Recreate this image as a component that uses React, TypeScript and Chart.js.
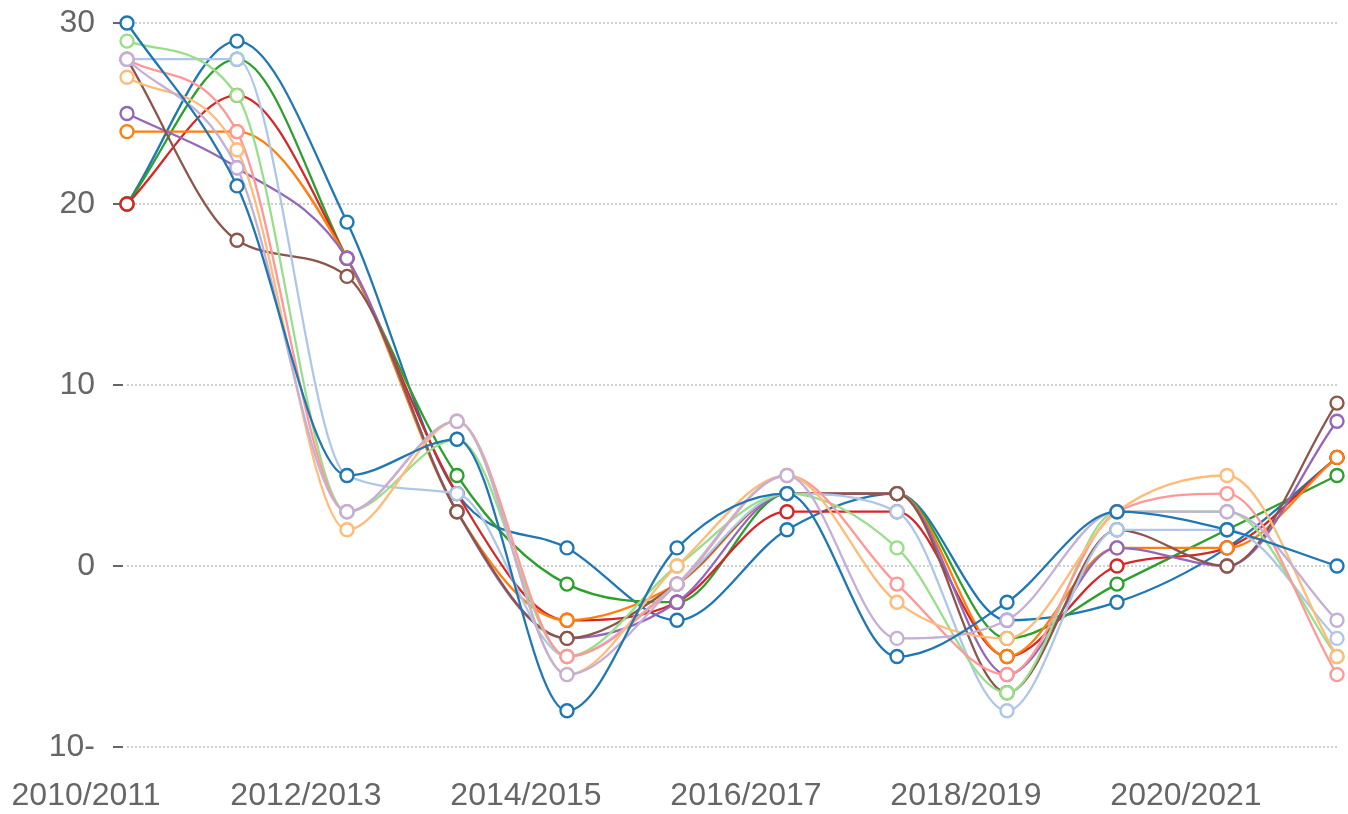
import React, { useEffect, useRef } from "react";
import { Chart, registerables } from "chart.js";

Chart.register(...registerables);

const categories = [
  "2010/2011", "2011/2012", "2012/2013", "2013/2014", "2014/2015", "2015/2016",
  "2016/2017", "2017/2018", "2018/2019", "2019/2020", "2020/2021", "2021/2022",
];

const yTickValues = [-10, 0, 10, 20, 30];
const yTickLabels = ["10-", "0", "10", "20", "30"];

// series values (Chart.js paints the first dataset on top)
const blueA = [30, 21, 5, 7, -8, 1, 4, -5, -2, 3, 2, 0];
const lightPurple = [28, 22, 3, 8, -6, -1, 5, -4, -3, 3, 3, -3];
const lightOrange = [27, 23, 2, 8, -6, 0, 5, -2, -4, 3, 5, -5];
const pink = [28, 24, 3, 8, -5, -1, 5, -1, -6, 3, 4, -6];
const lightGreen = [29, 26, 3, 7, -5, 0, 4, 1, -7, 3, 3, -5];
const lightBlue = [28, 28, 5, 4, -5, -1, 4, 3, -8, 2, 2, -4];
const brown = [28, 18, 16, 3, -4, -1, 4, 4, -7, 2, 0, 9];
const purple = [25, 22, 17, 3, -4, -2, 4, 4, -6, 1, 0, 8];
const orange = [24, 24, 17, 3, -3, -1, 4, 4, -5, 1, 1, 6];
const red = [20, 26, 17, 4, -3, -2, 3, 3, -5, 0, 1, 6];
const green = [20, 28, 17, 5, -1, -2, 4, 4, -4, -1, 2, 5];
const blueB = [20, 29, 19, 4, 1, -3, 2, 4, -3, -2, 1, 6];

const seriesValues = [blueA, lightPurple, lightOrange, pink, lightGreen, lightBlue, brown, purple, orange, red, green, blueB];
const seriesNames = ["L", "K", "J", "I", "H", "G", "F", "E", "D", "C", "B", "A"];
const seriesColors = [
  "#1f77b4", "#c5b0d5", "#ffbb78", "#ff9896", "#98df8a", "#aec7e8",
  "#8c564b", "#9467bd", "#ff7f0e", "#d62728", "#2ca02c", "#1f77b4",
];

const FONT = "'Liberation Sans', Arial, sans-serif";

export default function App() {
  const ref = useRef<HTMLCanvasElement | null>(null);

  useEffect(() => {
    if (!ref.current) return;
    const chart = new Chart(ref.current, {
      type: "line",
      data: {
        labels: categories,
        datasets: seriesValues.map((vals, i) => ({
          label: seriesNames[i],
          data: vals,
          borderColor: seriesColors[i],
          backgroundColor: "#ffffff",
          pointBackgroundColor: "#ffffff",
          pointBorderColor: seriesColors[i],
          pointRadius: 6.5,
          pointBorderWidth: 2.4,
          borderWidth: 2.3,
          cubicInterpolationMode: "monotone" as const,
          clip: false as any,
          fill: false,
        })),
      },
      options: {
        responsive: false,
        animation: false,
        events: [],
        layout: { padding: { top: 23, right: 11, left: 0, bottom: 0 } },
        plugins: { legend: { display: false }, tooltip: { enabled: false }, title: { display: false } },
        scales: {
          x: {
            type: "category",
            grid: { display: false, drawTicks: false },
            border: { display: false },
            ticks: {
              autoSkip: false,
              maxRotation: 0,
              minRotation: 0,
              labelOffset: -41,
              padding: 30,
              color: "#666666",
              font: { family: FONT, size: 32 },
              callback: (_v: any, index: number) => (index % 2 === 0 ? categories[index] : ""),
            },
            afterFit: (scale: any) => {
              scale.height = 67;
              scale.paddingLeft = 0;
              scale.paddingRight = 0;
            },
          },
          y: {
            min: -10,
            max: 30,
            border: { display: false, dash: [2, 2] },
            grid: {
              color: "#cfcfcf",
              lineWidth: 2,
              tickLength: 14,
              tickColor: "#666666",
              tickWidth: 2,
              tickBorderDash: [10, 4],
            } as any,
            ticks: {
              stepSize: 10,
              padding: 18,
              color: "#666666",
              font: { family: FONT, size: 32 },
              callback: (v: any) => {
                const idx = yTickValues.indexOf(Number(v));
                return idx >= 0 ? yTickLabels[idx] : "";
              },
            },
            afterFit: (scale: any) => {
              scale.width = 127;
              scale.paddingTop = 0;
              scale.paddingBottom = 0;
            },
          },
        },
      },
    });
    return () => chart.destroy();
  }, []);

  return (
    <div style={{ position: "fixed", left: 0, top: 0, width: 1348, height: 814, background: "#fff" }}>
      <canvas ref={ref} width={1348} height={814} style={{ display: "block" }} />
    </div>
  );
}
